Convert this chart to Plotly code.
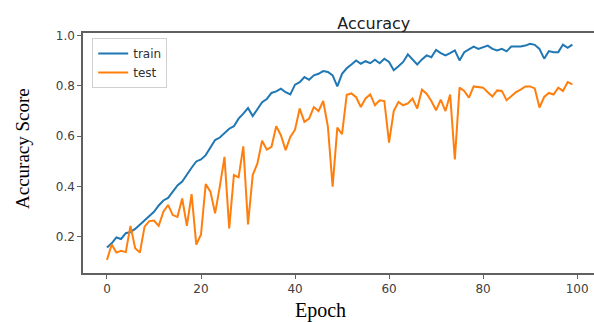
import plotly.graph_objects as go

epochs = list(range(100))

train_acc = [
    0.158, 0.175, 0.198, 0.192, 0.215, 0.220, 0.232, 0.250, 0.265, 0.282,
    0.300, 0.325, 0.345, 0.355, 0.380, 0.405, 0.420, 0.450, 0.475, 0.500,
    0.508, 0.525, 0.555, 0.585, 0.595, 0.612, 0.630, 0.640, 0.670, 0.690,
    0.712, 0.680, 0.710, 0.735, 0.748, 0.772, 0.778, 0.789, 0.775, 0.766,
    0.805, 0.815, 0.835, 0.824, 0.842, 0.848, 0.859, 0.855, 0.842, 0.798,
    0.848, 0.870, 0.885, 0.901, 0.888, 0.898, 0.890, 0.904, 0.890, 0.908,
    0.895, 0.862, 0.878, 0.895, 0.925, 0.905, 0.885, 0.905, 0.921, 0.914,
    0.943, 0.930, 0.921, 0.930, 0.941, 0.901, 0.934, 0.945, 0.956, 0.947,
    0.954, 0.960, 0.947, 0.941, 0.947, 0.937, 0.956, 0.955, 0.956, 0.960,
    0.967, 0.963, 0.947, 0.908, 0.938, 0.934, 0.934, 0.964, 0.951, 0.964,
]

test_acc = [
    0.109, 0.170, 0.138, 0.145, 0.140, 0.244, 0.155, 0.138, 0.241, 0.263,
    0.265, 0.244, 0.300, 0.327, 0.287, 0.280, 0.353, 0.244, 0.370, 0.170,
    0.210, 0.410, 0.380, 0.294, 0.400, 0.518, 0.234, 0.446, 0.437, 0.560,
    0.250, 0.446, 0.492, 0.582, 0.547, 0.558, 0.640, 0.604, 0.545, 0.597,
    0.626, 0.710, 0.657, 0.670, 0.716, 0.700, 0.740, 0.637, 0.400, 0.634,
    0.608, 0.765, 0.770, 0.755, 0.716, 0.750, 0.766, 0.723, 0.743, 0.740,
    0.575, 0.700, 0.736, 0.723, 0.730, 0.750, 0.710, 0.785, 0.769, 0.740,
    0.703, 0.745, 0.700, 0.766, 0.508, 0.793, 0.780, 0.753, 0.798, 0.796,
    0.793, 0.775, 0.758, 0.782, 0.780, 0.743, 0.760, 0.775, 0.785, 0.798,
    0.798, 0.790, 0.714, 0.756, 0.772, 0.766, 0.793, 0.780, 0.815, 0.806,
]

x_ticks = [0, 20, 40, 60, 80, 100]
y_ticks = [0.2, 0.4, 0.6, 0.8, 1.0]

fig = go.Figure()
fig.add_trace(go.Scatter(x=epochs, y=train_acc, mode="lines", name="train",
                         line=dict(color="#1f77b4", width=2)))
fig.add_trace(go.Scatter(x=epochs, y=test_acc, mode="lines", name="test",
                         line=dict(color="#ff7f0e", width=2)))

axis_common = dict(
    showgrid=False, zeroline=False, showline=True, linecolor="#606060", linewidth=1.5,
    ticks="outside", ticklen=4, tickwidth=1, tickcolor="#606060",
    tickfont=dict(family="DejaVu Sans", size=12, color="#404040"),
)

fig.update_layout(
    width=594, height=322,
    margin=dict(l=83, r=0, t=33, b=49),
    paper_bgcolor="white", plot_bgcolor="white",
    title=dict(text="Accuracy", x=338 / 594, xanchor="center", xref="paper",
               y=1 - 23 / 322, yanchor="middle", yref="container",
               font=dict(family="DejaVu Sans", size=16, color="#202020")),
    xaxis=dict(range=[-5.1, 103.6], tickvals=x_ticks, mirror=True, **axis_common),
    yaxis=dict(range=[0.057, 1.01], tickvals=y_ticks, tickformat=".1f", mirror=False,
               **axis_common),
    legend=dict(x=0.018, y=0.979, xanchor="left", yanchor="top",
                bgcolor="white", bordercolor="#d0d0d0", borderwidth=1,
                font=dict(family="DejaVu Sans", size=12, color="#303030"),
                itemwidth=30, tracegroupgap=0),
    showlegend=True,
    annotations=[
        dict(text="Accuracy Score", xref="paper", yref="paper",
             x=-(83 - 22) / 511, y=(273 - 149) / 240, xanchor="center", yanchor="middle",
             textangle=-90, showarrow=False,
             font=dict(family="Liberation Serif", size=19, color="black")),
        dict(text="Epoch", xref="paper", yref="paper",
             x=(320 - 83) / 511, y=-(310 - 273) / 240, xanchor="center", yanchor="middle",
             showarrow=False,
             font=dict(family="Liberation Serif", size=20, color="black")),
    ],
)

fig.write_html("out.html")
